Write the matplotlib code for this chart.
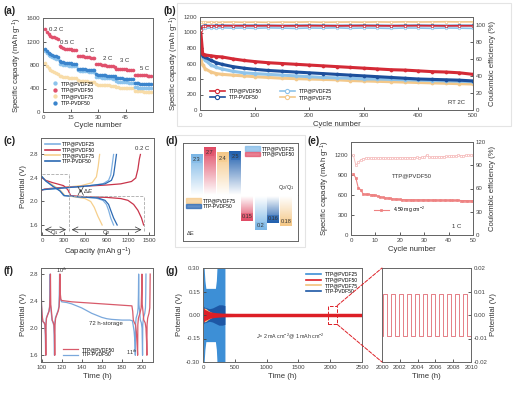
import numpy as np
import matplotlib
matplotlib.use("Agg")
import matplotlib.pyplot as plt
from matplotlib.colors import LinearSegmentedColormap
from matplotlib.patches import Rectangle, ConnectionPatch, Patch
from matplotlib.lines import Line2D

plt.rcParams['font.family'] = ['Liberation Sans', 'DejaVu Sans']
plt.rcParams['mathtext.fontset'] = 'custom'
plt.rcParams['mathtext.rm'] = 'Liberation Sans'
plt.rcParams['mathtext.it'] = 'Liberation Sans:italic'
plt.rcParams['axes.edgecolor'] = '#666666'
plt.rcParams['axes.linewidth'] = 0.7
plt.rcParams['xtick.direction'] = 'in'
plt.rcParams['ytick.direction'] = 'in'
plt.rcParams['xtick.major.size'] = 2
plt.rcParams['ytick.major.size'] = 2
plt.rcParams['xtick.major.width'] = 0.6
plt.rcParams['ytick.major.width'] = 0.6
plt.rcParams['xtick.major.pad'] = 2
plt.rcParams['ytick.major.pad'] = 2
plt.rcParams['xtick.labelsize'] = 4.4
plt.rcParams['ytick.labelsize'] = 4.4
plt.rcParams['xtick.color'] = '#444444'
plt.rcParams['ytick.color'] = '#444444'
plt.rcParams['axes.labelsize'] = 5.6
plt.rcParams['axes.labelcolor'] = '#333333'

W, H = 514, 397
LEG = 3.6
ANN = 4.3

# ---- (a) rate capability ----
rates_a = ['0.2 C', '0.5 C', '1 C', '2 C', '3 C', '5 C']
cap_a_pvdf25 = [1040, 1000, 970, 950, 930, 915, 905, 895,
                820, 810, 805, 800, 795, 790, 788, 785, 782, 780,
                710, 705, 700, 696, 692, 690, 688, 685, 682, 680,
                600, 595, 590, 586, 582, 580, 578, 575, 572, 570, 568,
                520, 516, 513, 510, 508, 506, 504, 502, 500, 498,
                420, 418, 416, 415, 414, 413, 412, 411, 410, 410]
cap_a_pvdf50 = [1420, 1360, 1320, 1300, 1285, 1270, 1260, 1250,
                1120, 1100, 1090, 1080, 1075, 1070, 1065, 1060, 1055, 1050,
                960, 955, 950, 945, 940, 935, 930, 925, 920, 915,
                820, 815, 810, 805, 800, 795, 790, 785, 780, 775, 770,
                735, 732, 730, 728, 726, 724, 722, 720, 718, 716,
                630, 628, 626, 625, 624, 623, 622, 621, 620, 620]
cap_a_pvdf75 = [840, 790, 750, 720, 700, 680, 665, 650,
                620, 610, 600, 595, 590, 585, 582, 580, 578, 575,
                540, 535, 530, 527, 524, 521, 518, 515, 512, 510,
                470, 467, 464, 461, 458, 456, 454, 452, 450, 448, 446,
                420, 418, 416, 414, 412, 410, 408, 406, 404, 402,
                360, 357, 354, 352, 350, 348, 346, 344, 342, 340]
cap_a_ttp = [1070, 1040, 1010, 990, 970, 960, 950, 940,
             860, 850, 845, 840, 835, 830, 828, 825, 822, 820,
             740, 735, 730, 728, 725, 722, 720, 718, 715, 712,
             640, 635, 630, 628, 625, 622, 620, 618, 615, 612, 610,
             580, 578, 575, 572, 570, 568, 566, 564, 562, 560,
             490, 488, 486, 485, 484, 483, 482, 481, 480, 480]
rate_lbl_x = [3.5, 9, 23, 32.5, 42, 53]
rate_lbl_y = [1360, 1140, 1000, 860, 830, 690]

# ---- (b) long cycling 2C ----
cyc_b = [1, 5, 10, 20, 30, 40, 60, 80, 100, 125, 150, 175, 200, 225, 250,
         275, 300, 325, 350, 375, 400, 425, 450, 475, 500]
cap_b_pvdf50 = [1050, 720, 710, 700, 690, 685, 660, 640, 625, 610, 600, 590, 580,
                570, 560, 550, 540, 530, 520, 515, 505, 495, 490, 480, 460]
cap_b_ttp = [800, 700, 680, 640, 610, 590, 560, 540, 525, 510, 500, 490, 480,
             470, 460, 450, 440, 430, 420, 410, 400, 395, 390, 385, 375]
cap_b_pvdf25 = [780, 680, 640, 580, 550, 530, 500, 480, 470, 460, 450, 440, 430,
                420, 415, 410, 400, 400, 395, 390, 385, 380, 375, 370, 365]
cap_b_pvdf75 = [650, 580, 530, 490, 470, 460, 450, 440, 430, 420, 410, 405, 400,
                395, 390, 380, 375, 370, 365, 360, 355, 350, 345, 340, 335]
ce_b_pvdf50 = [95, 99.2, 99.5, 99.6, 99.5, 99.6, 99.7, 99.6, 99.5, 99.7, 99.6, 99.5, 99.7,
               99.6, 99.5, 99.6, 99.7, 99.6, 99.5, 99.6, 99.7, 99.6, 99.5, 99.6, 99.6]
ce_b_pvdf25 = [96, 96.5, 96.8, 97, 96.5, 97.2, 96.8, 97, 96.6, 97.1, 96.9, 96.5, 97,
               96.8, 97.2, 96.6, 97, 96.8, 96.5, 97, 96.9, 96.6, 97, 96.8, 96.5]
ce_b_pvdf75 = [104, 103.5, 103.8, 104, 103.6, 103.9, 104.1, 103.8, 104, 103.7, 104, 103.9, 104.2,
               103.8, 104, 104.1, 103.9, 104.2, 104, 104.3, 104.1, 104.2, 104.4, 104.2, 104.3]
ce_b_ttp = [98, 99.8, 100, 99.9, 100, 100.1, 99.9, 100, 100.1, 100, 99.9, 100, 100.1,
            100, 99.9, 100, 100.1, 100, 99.9, 100, 100.1, 100, 99.9, 100, 100]

# ---- (c) charge/discharge profiles at 0.2C ----
dis_cap_pvdf25 = [0, 50, 150, 250, 300, 500, 750, 850, 900, 930, 960, 1000]
dis_v_pvdf25 = [2.42, 2.35, 2.26, 2.18, 2.10, 2.08, 2.06, 2.02, 1.95, 1.85, 1.72, 1.60]
chg_cap_pvdf25 = [0, 100, 300, 600, 850, 930, 960, 980, 1000]
chg_v_pvdf25 = [2.20, 2.21, 2.23, 2.26, 2.30, 2.36, 2.45, 2.62, 2.80]
dis_cap_pvdf50 = [0, 50, 150, 300, 360, 400, 600, 900, 1100, 1200, 1280, 1340, 1390, 1420]
dis_v_pvdf50 = [2.40, 2.36, 2.32, 2.27, 2.20, 2.10, 2.08, 2.07, 2.05, 2.02, 1.95, 1.85, 1.72, 1.60]
chg_cap_pvdf50 = [0, 30, 100, 300, 600, 900, 1100, 1250, 1310, 1340, 1360, 1375]
chg_v_pvdf50 = [2.19, 2.21, 2.22, 2.24, 2.26, 2.28, 2.30, 2.34, 2.40, 2.55, 2.72, 2.80]
dis_cap_pvdf75 = [0, 50, 150, 250, 320, 450, 600, 680, 730, 780, 840]
dis_v_pvdf75 = [2.42, 2.36, 2.28, 2.20, 2.10, 2.08, 2.05, 2.00, 1.90, 1.75, 1.60]
chg_cap_pvdf75 = [0, 100, 300, 550, 700, 760, 785, 805]
chg_v_pvdf75 = [2.20, 2.22, 2.24, 2.27, 2.32, 2.42, 2.60, 2.80]
dis_cap_ttp = [0, 50, 150, 250, 310, 500, 780, 880, 930, 960, 1000, 1050]
dis_v_ttp = [2.42, 2.35, 2.26, 2.18, 2.10, 2.08, 2.06, 2.02, 1.95, 1.85, 1.72, 1.60]
chg_cap_ttp = [0, 100, 300, 600, 880, 970, 1000, 1020, 1040]
chg_v_ttp = [2.20, 2.21, 2.23, 2.26, 2.30, 2.36, 2.45, 2.62, 2.80]

# ---- (d) Q2/Q1 and dE ----
q_ratio_names = ['TTP@PVDF25', 'TTP@PVDF50', 'TTP@PVDF75', 'TTP-PVDF50']
q_ratio = [2.3, 2.7, 2.4, 2.5]
de_names = ['TTP@PVDF50', 'TTP@PVDF25', 'TTP-PVDF50', 'TTP@PVDF75']
de_vals = [0.15, 0.2, 0.16, 0.18]

# ---- (e) high loading 1C ----
cyc_e = list(range(1, 51))
cap_e = [919, 857, 707, 681, 616, 612, 610, 608, 605, 595,
         585, 575, 566, 560, 555, 550, 545, 540, 537, 535,
         533, 532, 531, 530, 530, 529, 529, 528, 528, 528,
         527, 527, 526, 526, 525, 525, 525, 524, 524, 524,
         523, 522, 521, 520, 519, 518, 517, 516, 515, 515]
ce_e = [102.8, 90, 94, 97, 98.6, 99, 99.2, 99.4, 99.3, 99.5,
        99.4, 99.6, 99.5, 99.4, 99.6, 99.5, 99.7, 99.5, 99.6, 99.8,
        99.6, 99.7, 99.9, 99.8, 100, 99.9, 100.1, 100, 100.2, 100.1,
        103, 100.4, 100.5, 100.6, 100.8, 100.9, 101, 101.2, 101.3, 101.4,
        101.6, 101.8, 102, 103, 102.2, 102.4, 102.6, 102.8, 103, 103]

# ---- (f) self-discharge test ----
t_f_pvdf50 = [99.6, 100.0, 100.6, 101.4, 102.7, 103.5, 104.0, 104.3, 104.5, 105.0, 106.2,
              107.5, 108.2, 108.6, 108.9, 109.2, 109.9, 110.7, 111.8, 112.5, 112.9, 113.2,
              113.4, 114.1, 115.3, 116.8, 117.6, 118.1, 118.5, 118.8, 119.3, 120, 130, 140,
              150, 160, 170, 180, 190, 190.8, 191.4, 192.5, 193.6, 194.4, 195.0, 195.7,
              195.9, 196.5, 198.0, 199.2, 199.6, 200.0, 200.3, 201.0, 201.8, 203.2, 204.0,
              204.6, 204.9, 205.1, 205.7, 207.0, 207.8, 208.0, 208.2]
v_f_pvdf50 = [2.65, 2.35, 2.20, 2.10, 2.08, 2.05, 1.90, 1.60, 2.05, 2.15, 2.20,
              2.25, 2.32, 2.50, 2.80, 2.35, 2.25, 2.12, 2.08, 2.04, 1.90, 1.60,
              2.05, 2.15, 2.20, 2.26, 2.32, 2.50, 2.80, 2.50, 2.43, 2.41, 2.39, 2.38,
              2.37, 2.36, 2.35, 2.34, 2.33, 2.25, 2.12, 2.08, 2.05, 1.95, 1.80, 1.60,
              2.05, 2.15, 2.22, 2.30, 2.50, 2.80, 2.35, 2.25, 2.12, 2.08, 2.00,
              1.80, 1.60, 2.05, 2.15, 2.22, 2.30, 2.50, 2.80]
t_f_ttp = [99.6, 100.0, 100.5, 101.2, 102.5, 103.3, 103.8, 104.1, 104.3, 104.8, 106.0,
           107.3, 108.0, 108.3, 108.6, 108.9, 109.6, 110.4, 111.5, 112.2, 112.6, 112.9,
           113.1, 113.8, 115.0, 116.5, 117.3, 117.7, 118.0, 118.3, 119.0, 120, 125, 130,
           135, 140, 145, 150, 155, 160, 165, 170, 180, 188, 190.5, 191.2, 192.2, 193.0,
           193.4, 193.6, 194.2, 195.6, 196.2, 196.5, 196.7, 197.0, 197.7, 198.4, 199.4,
           200.1, 200.6, 200.8, 201.4, 202.8, 203.5, 203.8, 204.0]
v_f_ttp = [2.65, 2.35, 2.20, 2.10, 2.08, 2.05, 1.90, 1.60, 2.05, 2.15, 2.20,
           2.25, 2.32, 2.50, 2.80, 2.35, 2.25, 2.12, 2.08, 2.04, 1.90, 1.60,
           2.05, 2.15, 2.20, 2.26, 2.32, 2.50, 2.80, 2.50, 2.42, 2.39, 2.38, 2.36,
           2.33, 2.30, 2.26, 2.22, 2.19, 2.16, 2.14, 2.13, 2.12, 2.12, 2.11, 2.05, 1.95,
           1.80, 1.60, 2.05, 2.15, 2.22, 2.30, 2.50, 2.80, 2.35, 2.25, 2.12, 2.08,
           2.00, 1.60, 2.05, 2.15, 2.22, 2.30, 2.50, 2.80]

# ---- (g) symmetric cells, voltage envelope (half amplitude) ----
t_g_pvdf25 = [0, 15, 30, 45, 195, 210, 222, 345]
amp_g_pvdf25 = [0.32, 0.32, 0.22, 0.17, 0.17, 0.22, 0.32, 0.32]
t_g_ttp = [0, 20, 60, 100, 150, 200, 250, 300, 345]
amp_g_ttp = [0.06, 0.05, 0.045, 0.04, 0.045, 0.055, 0.065, 0.065, 0.06]
t_g_pvdf75 = [0, 20, 50, 80, 120, 160]
amp_g_pvdf75 = [0.03, 0.045, 0.04, 0.03, 0.02, 0.012]
t_g_pvdf50 = [0, 10, 30, 60, 100, 150, 200, 300, 500, 1000, 2500]
amp_g_pvdf50 = [0.03, 0.045, 0.035, 0.03, 0.022, 0.018, 0.015, 0.012, 0.011, 0.011, 0.011]
t_zoom = [2000.1, 2000.1, 2000.55, 2000.55, 2001.0, 2001.0, 2001.45, 2001.45, 2001.9, 2001.9,
          2002.35, 2002.35, 2002.8, 2002.8, 2003.25, 2003.25, 2003.7, 2003.7, 2004.15, 2004.15,
          2004.6, 2004.6, 2005.05, 2005.05, 2005.5, 2005.5, 2005.95, 2005.95, 2006.4, 2006.4,
          2006.85, 2006.85, 2007.3, 2007.3, 2007.75, 2007.75, 2008.2, 2008.2, 2008.65, 2008.65,
          2009.1, 2009.1, 2009.55, 2009.55, 2010.0]
v_zoom = [-0.009, 0.009, 0.009, -0.009, -0.009, 0.009, 0.009, -0.009, -0.009, 0.009,
          0.009, -0.009, -0.009, 0.009, 0.009, -0.009, -0.009, 0.009, 0.009, -0.009,
          -0.009, 0.009, 0.009, -0.009, -0.009, 0.009, 0.009, -0.009, -0.009, 0.009,
          0.009, -0.009, -0.009, 0.009, 0.009, -0.009, -0.009, 0.009, 0.009, -0.009,
          -0.009, 0.009, 0.009, -0.009, -0.009]

C25 = '#8cc3ec'
C50 = '#e0506c'
C75 = '#f8dca8'
CTTP = '#3a84cc'


def axbox(l, t, r, b):
    return [l / W, 1 - b / H, (r - l) / W, (b - t) / H]


fig = plt.figure(figsize=(W / 100, H / 100), dpi=100)

# faint panel frames
for l, t, r, b in [(177, 3, 511, 126), (175, 135, 305, 247)]:
    fig.add_artist(Rectangle((l / W, 1 - b / H), (r - l) / W, (b - t) / H, transform=fig.transFigure,
                             fill=False, ec='#e4e4e4', lw=0.8))

# panel (a)
ax = fig.add_axes(axbox(43, 18, 153, 112))
cyc_a = np.arange(1, len(cap_a_pvdf50) + 1)
ax.plot(cyc_a, cap_a_pvdf75, 'o', color=C75, ms=2.6, mec='none', label='TTP@PVDF75')
ax.plot(cyc_a, cap_a_pvdf25, 'o', color=C25, ms=2.6, mec='none', label='TTP@PVDF25')
ax.plot(cyc_a, cap_a_ttp, 'o', color=CTTP, ms=2.6, mec='none', label='TTP-PVDF50')
ax.plot(cyc_a, cap_a_pvdf50, 'o', color=C50, ms=2.6, mec='none', label='TTP@PVDF50')
for lbl, x, y in zip(rates_a, rate_lbl_x, rate_lbl_y):
    ax.text(x, y, lbl, fontsize=ANN, color='#333333', va='bottom')
h, l = ax.get_legend_handles_labels()
order = [1, 3, 0, 2]
ax.legend([h[i] for i in order], [l[i] for i in order], loc='lower left', fontsize=LEG,
          frameon=False, handletextpad=0.3, labelspacing=0.3, borderaxespad=0.3,
          markerscale=1.2, bbox_to_anchor=(0.03, 0.03))
ax.set_xlim(0, 60)
ax.set_ylim(0, 1600)
ax.set_xticks([0, 15, 30, 45])
ax.set_yticks([0, 400, 800, 1200, 1600])
ax.set_xlabel('Cycle number', labelpad=1.5)
ax.set_ylabel('Specific capacity (mAh g$^{-1}$)', labelpad=2)

# panel (b)
ax = fig.add_axes(axbox(200, 17, 473, 110))
ax2 = ax.twinx()
RB, DB, LB, YB = '#d42a36', '#1c4f9c', '#8ec3ea', '#f3c88a'
for ce, c in [(ce_b_pvdf75, YB), (ce_b_pvdf25, LB), (ce_b_ttp, DB), (ce_b_pvdf50, RB)]:
    ax2.plot(cyc_b, ce, '-o', color=c, lw=1.2, ms=1.8, mfc='white', mew=0.5)
for cap, c in [(cap_b_pvdf75, YB), (cap_b_pvdf25, LB), (cap_b_ttp, DB), (cap_b_pvdf50, RB)]:
    ax.plot(cyc_b, cap, '-o', color=c, lw=2.2, ms=2.2, mfc=c, mew=0.5)
hb = [Line2D([], [], color=c, lw=1.2, marker='o', ms=3, mfc='white', mew=0.8) for c in [RB, DB, LB, YB]]
ax.legend(hb, ['TTP@PVDF50', 'TTP-PVDF50', 'TTP@PVDF25', 'TTP@PVDF75'], ncol=2, loc='lower left',
          fontsize=LEG, frameon=False, handlelength=3.0, columnspacing=3.5, labelspacing=0.3,
          bbox_to_anchor=(0.02, 0.06))
ax.text(0.97, 0.05, 'RT 2C', transform=ax.transAxes, ha='right', va='bottom', fontsize=ANN, color='#333333')
ax.set_xlim(0, 500)
ax.set_ylim(0, 1200)
ax2.set_ylim(0, 110)
ax.set_xticks([0, 100, 200, 300, 400, 500])
ax.set_yticks([0, 200, 400, 600, 800, 1000, 1200])
ax2.set_yticks([0, 20, 40, 60, 80, 100])
ax.set_xlabel('Cycle number', labelpad=2)
ax.set_ylabel('Specific capacity (mAh g$^{-1}$)', labelpad=2)
ax2.set_ylabel('Coulombic efficiency (%)', labelpad=2)

# panel (c)
ax = fig.add_axes(axbox(41, 138, 154, 235))
CL25, CL50, CL75, CLT = '#7fb0e2', '#c8344a', '#f6cf8c', '#2c6ab3'
ax.plot(dis_cap_pvdf75, dis_v_pvdf75, color=CL75, lw=0.9)
ax.plot(chg_cap_pvdf75, chg_v_pvdf75, color=CL75, lw=0.9)
ax.plot(dis_cap_pvdf50, dis_v_pvdf50, color=CL50, lw=0.9)
ax.plot(chg_cap_pvdf50, chg_v_pvdf50, color=CL50, lw=0.9)
ax.plot(dis_cap_pvdf25, dis_v_pvdf25, color=CL25, lw=0.9)
ax.plot(chg_cap_pvdf25, chg_v_pvdf25, color=CL25, lw=0.9)
ax.plot(dis_cap_ttp, dis_v_ttp, color=CLT, lw=0.9)
ax.plot(chg_cap_ttp, chg_v_ttp, color=CLT, lw=0.9)
hc = [Line2D([], [], color=c, lw=1.2) for c in [CL25, CL50, CL75, CLT]]
ax.legend(hc, ['TTP@PVDF25', 'TTP@PVDF50', 'TTP@PVDF75', 'TTP-PVDF50'], loc='upper left', fontsize=LEG,
          frameon=False, handlelength=3.0, labelspacing=0.15, borderaxespad=0.3, handletextpad=0.5)
dk = dict(color='#aaaaaa', lw=0.6, ls='--')
ax.plot([0, 375], [2.47, 2.47], **dk)
ax.plot([375, 375], [1.5, 2.47], **dk)
ax.plot([375, 1430], [2.1, 2.1], **dk)
ax.plot([1430, 1430], [1.5, 2.1], **dk)
ax.annotate('', xy=(0, 1.52), xytext=(375, 1.52), arrowprops=dict(arrowstyle='<->', lw=0.5, color='#333333'))
ax.annotate('', xy=(375, 1.52), xytext=(1430, 1.52), arrowprops=dict(arrowstyle='<->', lw=0.5, color='#333333'))
ax.text(170, 1.475, 'Q$_1$', fontsize=ANN, ha='center', va='center', color='#333333')
ax.text(900, 1.475, 'Q$_2$', fontsize=ANN, ha='center', va='center', color='#333333')
ax.annotate('', xy=(540, 2.1), xytext=(540, 2.26), arrowprops=dict(arrowstyle='<->', lw=0.5, color='#333333'))
ax.text(575, 2.17, '$\\Delta E$', fontsize=ANN, va='center', color='#333333')
ax.text(1400, 2.88, '0.2 C', fontsize=ANN, ha='center', color='#333333')
ax.set_xlim(-15, 1565)
ax.set_ylim(1.43, 3.08)
ax.set_xticks([0, 300, 600, 900, 1200, 1500])
ax.set_yticks([1.6, 2.0, 2.4, 2.8])
ax.set_xlabel('Capacity (mAh g$^{-1}$)', labelpad=2)
ax.set_ylabel('Potential (V)', labelpad=2)

# panel (d)
col_d = {'TTP@PVDF25': '#7ab6e6', 'TTP@PVDF50': '#e04a64', 'TTP@PVDF75': '#f5c887', 'TTP-PVDF50': '#1f5fae'}
axt = fig.add_axes(axbox(183, 143, 298, 195))
axb = fig.add_axes(axbox(183, 195, 298, 241))
xt = [1.15, 2.19, 3.25, 4.31]
xb = [5.3, 6.41, 7.45, 8.52]
bw = 0.95
grad = np.linspace(0, 1, 100).reshape(-1, 1)
for x, v, n in zip(xt, q_ratio, q_ratio_names):
    cm = LinearSegmentedColormap.from_list('g', ['white', col_d[n]])
    axt.imshow(grad, extent=[x - bw / 2, x + bw / 2, 0, v], origin='lower', aspect='auto', cmap=cm)
    axt.text(x, v - 0.3, '%g' % v, ha='center', va='center', fontsize=ANN - 0.3, color='#333333',
             bbox=dict(boxstyle='square,pad=0.15', fc=col_d[n], ec='none', alpha=0.45))
for x, v, n in zip(xb, de_vals, de_names):
    cm = LinearSegmentedColormap.from_list('g', ['white', col_d[n]])
    axb.imshow(grad[::-1], extent=[x - bw / 2, x + bw / 2, -v, -0.008], origin='lower', aspect='auto', cmap=cm)
    axb.text(x, -v + 0.025, '%g' % v, ha='center', va='center', fontsize=ANN - 0.3, color='#333333',
             bbox=dict(boxstyle='square,pad=0.15', fc=col_d[n], ec='none', alpha=0.45))
axt.set_xlim(0, 9.5)
axb.set_xlim(0, 9.5)
axt.set_ylim(0, 2.97)
axb.set_ylim(-0.265, 0)
for a in (axt, axb):
    a.set_xticks([])
    a.set_yticks([])
axt.spines['bottom'].set_color('#444444')
axb.spines['top'].set_visible(False)
ht = [Patch(color=col_d[n], alpha=0.7) for n in ['TTP@PVDF25', 'TTP@PVDF50']]
axt.legend(ht, ['TTP@PVDF25', 'TTP@PVDF50'], loc='upper right', fontsize=LEG, frameon=False,
           handlelength=3.0, handleheight=1.0, labelspacing=0.1, borderaxespad=0.2, handletextpad=0.4)
hb2 = [Patch(color=col_d[n], alpha=0.7) for n in ['TTP@PVDF75', 'TTP-PVDF50']]
axb.legend(hb2, ['TTP@PVDF75', 'TTP-PVDF50'], loc='upper left', fontsize=LEG, frameon=False,
           handlelength=3.0, handleheight=1.0, labelspacing=0.1, borderaxespad=0.2, handletextpad=0.4)
axt.text(0.97, 0.06, 'Q$_2$/Q$_1$', transform=axt.transAxes, ha='right', va='bottom', fontsize=ANN - 0.3,
         color='#333333')
axb.text(0.03, 0.08, '$\\Delta$E', transform=axb.transAxes, ha='left', va='bottom', fontsize=ANN - 0.3,
         color='#333333')

# panel (e)
ax = fig.add_axes(axbox(351, 142, 473, 235))
ax2 = ax.twinx()
ax2.plot(cyc_e, ce_e, 's-', color='#f5b8b8', lw=0.6, ms=1.8, mfc='white', mew=0.5)
ax.plot(cyc_e, cap_e, 's-', color='#ee8282', lw=0.8, ms=1.8, mew=0.5, label='4.59 mg cm$^{-2}$')
ax.legend(loc='lower left', fontsize=LEG, frameon=False, bbox_to_anchor=(0.15, 0.17), handlelength=3.0)
ax.text(0.5, 0.62, 'TTP@PVDF50', transform=ax.transAxes, ha='center', fontsize=ANN, color='#333333')
ax.text(0.9, 0.07, '1 C', transform=ax.transAxes, ha='right', fontsize=ANN, color='#333333')
ax.set_xlim(0, 50)
ax.set_ylim(0, 1400)
ax2.set_ylim(0, 120)
ax.set_xticks([0, 10, 20, 30, 40, 50])
ax.set_yticks([0, 300, 600, 900, 1200])
ax2.set_yticks([0, 30, 60, 90, 120])
ax.set_xlabel('Cycle number', labelpad=2)
ax.set_ylabel('Specific capacity (mAh g$^{-1}$)', labelpad=2)
ax2.set_ylabel('Coulombic efficiency (%)', labelpad=2)

# panel (f)
ax = fig.add_axes(axbox(41, 268, 153, 362))
ax.plot(t_f_ttp, v_f_ttp, color='#7aa8dc', lw=0.9, label='TTP-PVDF50')
ax.plot(t_f_pvdf50, v_f_pvdf50, color='#d85a6a', lw=0.9, label='TTP@PVDF50')
h, l = ax.get_legend_handles_labels()
ax.legend(h[::-1], l[::-1], loc='lower left', fontsize=LEG, frameon=False, bbox_to_anchor=(0.16, 0.0),
          handlelength=3.0, labelspacing=0.1)
ax.text(114, 2.82, '10$^{th}$', fontsize=ANN - 0.3, color='#333333')
ax.text(184, 1.61, '11$^{th}$', fontsize=ANN - 0.3, color='#333333')
ax.text(164, 2.07, '72 h-storage', fontsize=ANN, ha='center', va='center', color='#333333')
ax.set_xlim(99.5, 211)
ax.set_ylim(1.5, 2.89)
ax.set_xticks([100, 120, 140, 160, 180, 200])
ax.set_yticks([1.6, 2.0, 2.4, 2.8])
ax.set_xlabel('Time (h)', labelpad=2)
ax.set_ylabel('Potential (V)', labelpad=2)

# panel (g)
ax = fig.add_axes(axbox(203, 268, 362, 362))
GL, GR, GY, GD = '#3d8fd6', '#dd1f26', '#f4c27a', '#1d57a5'
ax.fill_between(t_g_pvdf25, [-a for a in amp_g_pvdf25], amp_g_pvdf25, color=GL, lw=0)
ax.fill_between(t_g_ttp, [-a for a in amp_g_ttp], amp_g_ttp, color=GD, lw=0)
ax.fill_between(t_g_pvdf75, [-a for a in amp_g_pvdf75], amp_g_pvdf75, color=GY, lw=0)
ax.fill_between(t_g_pvdf50, [-a for a in amp_g_pvdf50], amp_g_pvdf50, color=GR, lw=0)
hg = [Line2D([], [], color=c, lw=1.2) for c in [GL, GR, GY, GD]]
ax.legend(hg, ['TTP@PVDF25', 'TTP@PVDF50', 'TTP@PVDF75', 'TTP-PVDF50'], loc='upper right', fontsize=LEG,
          frameon=False, handlelength=3.0, labelspacing=0.15, borderaxespad=0.3)
ax.text(1370, -0.135, '$J$= 2 mA cm$^{-2}$@ 1 mAh cm$^{-2}$', fontsize=3.8, ha='center', va='center',
        color='#333333')
ax.add_patch(Rectangle((1970, -0.06), 140, 0.12, fill=False, ec=GR, ls='--', lw=0.7))
ax.set_xlim(0, 2500)
ax.set_ylim(-0.3, 0.3)
ax.set_xticks([0, 500, 1000, 1500, 2000, 2500])
ax.set_yticks([-0.3, -0.15, 0, 0.15, 0.3])
ax.set_yticklabels(['-0.30', '-0.15', '0.00', '0.15', '0.30'])
ax.set_xlabel('Time (h)', labelpad=2)
ax.set_ylabel('Potential (V)', labelpad=2)

axi = fig.add_axes(axbox(382, 268, 471, 362))
axi.plot(t_zoom, v_zoom, color='#e06a72', lw=0.6)
axi.set_xlim(2000, 2010)
axi.set_ylim(-0.02, 0.02)
axi.set_xticks([2000, 2002, 2004, 2006, 2008, 2010])
axi.set_yticks([-0.02, -0.01, 0, 0.01, 0.02])
axi.set_yticklabels(['-0.02', '-0.01', '0.00', '0.01', '0.02'])
axi.yaxis.tick_right()
axi.yaxis.set_label_position('right')
axi.set_xlabel('Time (h)', labelpad=2)
axi.set_ylabel('Potential (V)', labelpad=2)
for xy_a, xy_b in [((2110, 0.06), (2000, 0.02)), ((2110, -0.06), (2000, -0.02))]:
    con = ConnectionPatch(xyA=xy_a, coordsA=ax.transData, xyB=xy_b, coordsB=axi.transData,
                          color=GR, ls='--', lw=0.7)
    fig.add_artist(con)

for lbl, x, y in [('(a)', 4, 11), ('(b)', 163, 11), ('(c)', 4, 141), ('(d)', 166, 141),
                  ('(e)', 307, 141), ('(f)', 4, 271), ('(g)', 166, 271)]:
    fig.text(x / W, 1 - y / H, lbl, fontsize=7, fontweight='bold', va='center', ha='left', color='#222222')

fig.savefig('out.png', dpi=100)
